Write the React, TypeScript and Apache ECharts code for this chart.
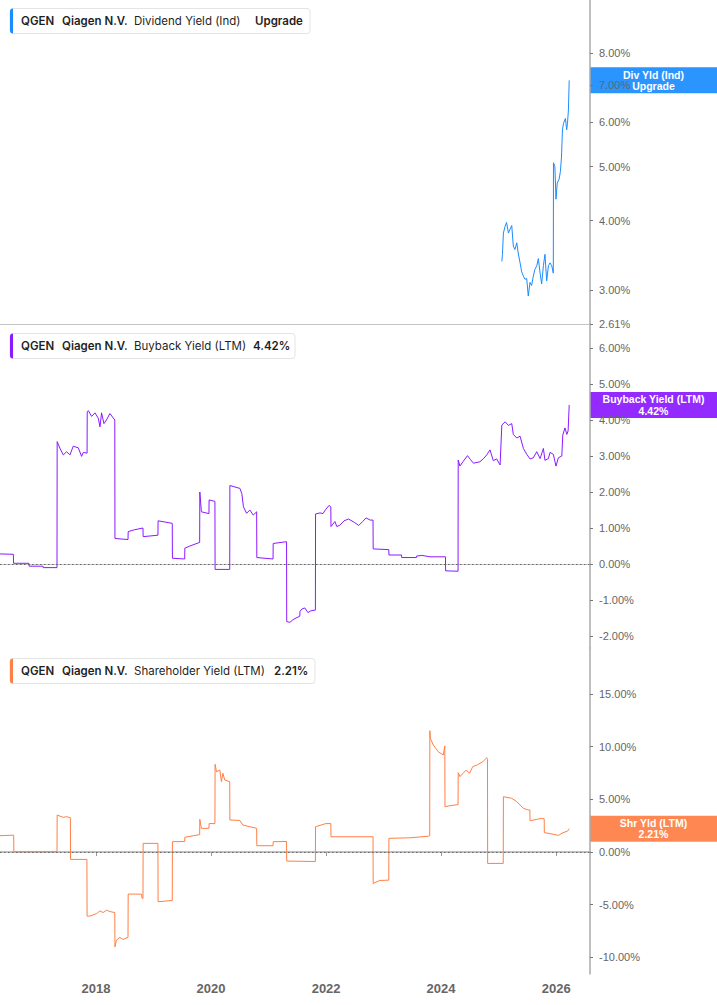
import React, { useEffect, useRef } from "react";
import * as echarts from "echarts";

// ---------- data ----------
const divDates = [
  "2025-01-21", "2025-01-25", "2025-01-31", "2025-02-11", "2025-02-20", "2025-03-04", "2025-03-14",
  "2025-03-25", "2025-04-04", "2025-04-14", "2025-04-26", "2025-05-05", "2025-05-17", "2025-05-27",
  "2025-06-07", "2025-06-17", "2025-06-28", "2025-07-08", "2025-07-19", "2025-07-29", "2025-08-09",
  "2025-08-19", "2025-08-31", "2025-09-10", "2025-09-21", "2025-10-01", "2025-10-12", "2025-10-22",
  "2025-11-02", "2025-11-13", "2025-11-23", "2025-12-04", "2025-12-14", "2025-12-15", "2025-12-24",
  "2025-12-31", "2026-01-08", "2026-01-20", "2026-01-28", "2026-02-04", "2026-02-10", "2026-02-17",
  "2026-03-01", "2026-03-09", "2026-03-14", "2026-03-20", "2026-03-25",
];
const divValues = [
  3.38, 3.48, 3.8, 3.91, 3.97, 3.8, 3.86,
  3.92, 3.6, 3.55, 3.65, 3.5, 3.36, 3.24,
  3.18, 3.14, 3.15, 2.93, 3.1, 3.06, 3.18,
  3.27, 3.32, 3.42, 3.22, 3.08, 3.32, 3.48,
  3.12, 3.32, 3.36, 3.32, 3.22, 5.08, 5.0,
  4.37, 4.67, 4.75, 4.9, 5.2, 5.82, 5.98,
  6.1, 5.82, 5.98, 6.32, 7.14,
];

const buyDates = [
  "2016-05-01", "2016-07-25", "2016-07-26", "2016-11-01", "2016-11-02", "2017-01-29", "2017-01-30",
  "2017-04-28", "2017-04-29", "2017-05-16", "2017-06-07", "2017-06-28", "2017-07-19", "2017-08-09",
  "2017-09-10", "2017-10-01", "2017-10-12", "2017-11-05", "2017-11-06", "2017-11-13", "2017-12-04",
  "2017-12-25", "2018-01-15", "2018-01-26", "2018-02-05", "2018-02-20", "2018-03-08", "2018-03-30",
  "2018-04-30", "2018-05-01", "2018-07-23", "2018-07-24", "2018-09-01", "2018-10-26", "2018-10-27",
  "2019-01-29", "2019-01-30", "2019-04-30", "2019-05-01", "2019-07-18", "2019-07-19", "2019-08-20",
  "2019-10-21", "2019-10-22", "2019-11-01", "2019-12-19", "2019-12-20", "2020-01-26", "2020-01-27",
  "2020-04-29", "2020-04-30", "2020-07-03", "2020-07-15", "2020-07-25", "2020-08-14", "2020-09-04",
  "2020-09-25", "2020-10-17", "2020-10-18", "2021-01-29", "2021-01-30", "2021-04-25", "2021-04-26",
  "2021-05-16", "2021-06-04", "2021-06-24", "2021-07-18", "2021-07-19", "2021-07-31", "2021-08-19",
  "2021-09-08", "2021-09-26", "2021-10-25", "2021-10-26", "2021-11-23", "2021-12-12", "2021-12-30",
  "2022-01-21", "2022-01-31", "2022-02-01", "2022-02-26", "2022-03-10", "2022-03-30", "2022-04-25",
  "2022-05-23", "2022-07-02", "2022-07-27", "2022-08-21", "2022-09-12", "2022-10-08", "2022-10-26",
  "2022-10-27", "2023-02-03", "2023-02-04", "2023-04-25", "2023-04-26", "2023-07-29", "2023-07-30",
  "2023-09-01", "2023-10-22", "2024-01-29", "2024-01-30", "2024-04-18", "2024-04-19", "2024-04-30",
  "2024-05-19", "2024-06-17", "2024-07-06", "2024-07-25", "2024-09-04", "2024-09-25", "2024-10-17",
  "2024-11-07", "2024-11-28", "2024-12-19", "2025-01-10", "2025-01-21", "2025-02-11", "2025-03-04",
  "2025-03-25", "2025-04-04", "2025-04-26", "2025-05-17", "2025-06-07", "2025-06-28", "2025-07-19",
  "2025-08-09", "2025-08-31", "2025-09-21", "2025-10-12", "2025-10-22", "2025-11-13", "2025-11-23",
  "2025-12-14", "2025-12-31", "2026-01-15", "2026-02-06", "2026-02-12", "2026-02-26", "2026-03-10",
  "2026-03-18", "2026-03-25",
];
const buyValues = [
  0.28, 0.27, 0.02, 0.02, -0.06, -0.06, -0.1,
  -0.1, 3.4, 3.22, 3.03, 3.12, 3.03, 3.27,
  3.23, 2.99, 3.1, 3.08, 4.23, 4.26, 4.1,
  4.2, 4.05, 3.81, 4.2, 3.9, 4.0, 4.18,
  4.0, 0.71, 0.68, 0.9, 0.95, 1.0, 0.76,
  0.8, 1.2, 1.13, 0.16, 0.14, 0.44, 0.5,
  0.6, 2.0, 1.45, 1.4, 1.78, 1.74, -0.15,
  -0.15, 2.18, 2.1, 1.95, 1.59, 1.41, 1.5,
  1.36, 1.45, 0.18, 0.14, 0.57, 0.62, -1.6,
  -1.62, -1.55, -1.5, -1.45, -1.32, -1.25, -1.22,
  -1.35, -1.3, -1.28, 1.39, 1.42, 1.4, 1.52,
  1.63, 1.58, 1.04, 1.18, 1.04, 1.08, 1.2,
  1.25, 1.15, 1.07, 1.18, 1.28, 1.22, 1.22,
  0.42, 0.4, 0.25, 0.25, 0.18, 0.18, 0.22,
  0.24, 0.2, 0.2, -0.19, -0.2, 2.89, 2.72,
  2.84, 3.01, 2.9, 2.8, 2.84, 2.92, 3.03,
  3.17, 2.87, 2.92, 2.75, 3.86, 3.95, 3.85,
  3.9, 3.6, 3.5, 3.55, 3.21, 3.05, 2.92,
  2.95, 3.12, 2.93, 3.21, 2.88, 2.93, 3.1,
  3.05, 2.72, 2.95, 3.0, 3.58, 3.78, 3.6,
  3.7, 4.42,
];

const shrDates = [
  "2016-05-01", "2016-07-27", "2016-07-28", "2017-04-28", "2017-04-29", "2017-06-07", "2017-06-28",
  "2017-07-22", "2017-07-23", "2017-11-04", "2017-11-05", "2017-11-23", "2018-01-05", "2018-01-26",
  "2018-02-15", "2018-03-08", "2018-03-30", "2018-04-30", "2018-05-01", "2018-05-11", "2018-06-01",
  "2018-06-21", "2018-07-23", "2018-07-24", "2018-10-17", "2018-10-20", "2018-10-26", "2018-10-27",
  "2019-01-29", "2019-01-30", "2019-04-30", "2019-05-01", "2019-07-18", "2019-07-19", "2019-10-21",
  "2019-10-22", "2019-11-01", "2019-12-19", "2019-12-20", "2020-01-26", "2020-01-27", "2020-02-05",
  "2020-02-26", "2020-03-07", "2020-03-17", "2020-03-28", "2020-04-29", "2020-04-30", "2020-07-02",
  "2020-07-22", "2020-09-04", "2020-10-17", "2020-10-18", "2021-01-29", "2021-01-30", "2021-04-25",
  "2021-04-26", "2021-10-25", "2021-10-26", "2021-12-30", "2022-01-31", "2022-02-01", "2022-10-26",
  "2022-10-27", "2022-12-08", "2023-02-03", "2023-02-04", "2023-06-17", "2023-10-12", "2023-10-21",
  "2023-10-22", "2023-10-25", "2023-11-13", "2023-12-14", "2024-01-15", "2024-01-25", "2024-01-26",
  "2024-02-26", "2024-04-18", "2024-04-19", "2024-04-30", "2024-05-19", "2024-06-09", "2024-06-30",
  "2024-07-20", "2024-08-19", "2024-09-25", "2024-10-17", "2024-10-22", "2024-10-23", "2025-01-30",
  "2025-01-31", "2025-03-25", "2025-04-26", "2025-06-07", "2025-07-08", "2025-07-18", "2025-07-19",
  "2025-08-31", "2025-10-01", "2025-10-17", "2025-10-18", "2025-11-23", "2026-01-15", "2026-02-14",
  "2026-03-14", "2026-03-25",
];
const shrValues = [
  1.55, 1.6, 0.03, 0.03, 3.51, 3.29, 3.36,
  3.25, -0.7, -0.7, -6.08, -6.08, -5.84, -5.59,
  -5.75, -5.52, -5.65, -5.75, -9.0, -8.36, -8.1,
  -8.3, -8.1, -3.99, -4.0, -4.4, -4.4, 0.82,
  0.82, -4.72, -4.6, 0.98, 1.0, 1.4, 1.65,
  3.1, 2.25, 2.25, 2.7, 2.7, 8.33, 7.62,
  7.79, 6.68, 7.47, 6.84, 6.68, 3.04, 3.0,
  2.56, 2.4, 2.25, 0.6, 0.6, 0.98, 1.0,
  -0.86, -0.9, 2.4, 2.7, 2.7, 1.45, 1.45,
  -2.98, -2.7, -2.67, 1.3, 1.35, 1.5, 1.55,
  11.52, 10.8, 10.16, 9.53, 9.21, 10.07, 4.3,
  4.4, 4.5, 7.53, 7.15, 7.47, 7.79, 7.47,
  8.1, 8.28, 8.6, 8.96, 8.8, -1.08, -1.08,
  5.25, 5.1, 4.78, 4.15, 3.99, 4.0, 2.97,
  3.1, 3.2, 3.15, 1.84, 1.75, 1.58, 1.84,
  1.98, 2.21,
];

const xTickYears = [2018, 2020, 2022, 2024, 2026];
const divTicks = [2.61, 3, 4, 5, 6, 7, 8];
const buyTicks = [-2, -1, 0, 1, 2, 3, 4, 5, 6];
const shrTicks = [-10, -5, 0, 5, 10, 15];

const ticker = "QGEN";
const company = "Qiagen N.V.";
const divName = "Dividend Yield (Ind)";
const buyName = "Buyback Yield (LTM)";
const shrName = "Shareholder Yield (LTM)";

// ---------- styling ----------
const BLUE = "#1a8cff";
const PURPLE = "#8b1aff";
const ORANGE = "#ff7f45";
const AXIS_FONT = "'Liberation Sans', Arial, sans-serif";
const LEG_FONT = "Inter, 'Noto Sans', sans-serif";

const W = 717;
const H = 1005;
const PLOT_RIGHT = 590;

const toTs = (s: string) => {
  const [y, m, d] = s.split("-").map(Number);
  return new Date(y, m - 1, d).getTime();
};
const X_MIN = toTs("2016-05-01");
const X_MAX = toTs("2026-08-04");
const xTickValues = xTickYears.map((y) => new Date(y, 0, 1).getTime());

const zip = (d: string[], v: number[]) => d.map((s, i) => [toTs(s), v[i]]);
const pct = (v: number) => v.toFixed(2) + "%";

function yAxisBase(grid: number, ticks: number[]) {
  return {
    gridIndex: grid,
    position: "right",
    axisLine: { show: true, lineStyle: { color: "#aaaaaa", width: 1.5 } },
    axisTick: { show: true, length: 3, customValues: ticks, lineStyle: { color: "#777" } },
    axisLabel: {
      show: true,
      customValues: ticks,
      margin: 9,
      color: "#666",
      fontSize: 11,
      fontFamily: AXIS_FONT,
      formatter: (v: number) => pct(v),
    },
    splitLine: { show: false },
  };
}

function xAxisBase(grid: number, last: boolean) {
  return {
    type: "value",
    gridIndex: grid,
    min: X_MIN,
    max: X_MAX,
    axisLine: { show: true, lineStyle: { color: last ? "#aaaaaa" : "#c4c4c4", width: last ? 1.5 : 1 } },
    axisTick: {
      show: last,
      length: 4,
      customValues: xTickValues,
      lineStyle: { color: "#999" },
    },
    axisLabel: {
      show: last,
      customValues: xTickValues,
      formatter: (v: number) => String(new Date(v).getFullYear()),
      color: "#666",
      fontWeight: "bold",
      fontSize: 13,
      fontFamily: AXIS_FONT,
      margin: 8,
    },
    splitLine: { show: false },
  };
}

const zeroLine = {
  silent: true,
  symbol: ["none", "none"],
  label: { show: false },
  lineStyle: { type: [1.5, 2.5], color: "#666", width: 1 },
  data: [{ yAxis: 0 }],
};

function legendBox(top: number, width: number, color: string, name: string, value: string, valueX: number) {
  const cy = top + 12.5;
  const txt = (x: number, text: string, bold: boolean) => ({
    type: "text",
    x,
    y: cy,
    style: {
      text,
      fill: "#1f1f1f",
      fontSize: 11.5,
      fontWeight: bold ? 600 : 400,
      fontFamily: LEG_FONT,
      verticalAlign: "middle",
    },
  });
  return {
    type: "group",
    children: [
      {
        type: "rect",
        shape: { x: 10, y: top, width, height: 25, r: 3 },
        style: { fill: "#fff", stroke: "#e4e4e4", lineWidth: 1 },
      },
      {
        type: "rect",
        shape: { x: 10, y: top, width: 3, height: 25, r: [3, 0, 0, 3] },
        style: { fill: color },
      },
      txt(21, ticker, true),
      txt(62, company, true),
      txt(134, name, false),
      txt(valueX, value, true),
    ],
  };
}

function tag(cy: number, color: string, text: string) {
  return {
    type: "group",
    children: [
      {
        type: "rect",
        shape: { x: PLOT_RIGHT, y: cy - 13, width: W - PLOT_RIGHT, height: 26 },
        style: { fill: color, opacity: 0.93 },
      },
      {
        type: "text",
        x: 653.5,
        y: cy,
        style: {
          text,
          fill: "#fff",
          fontSize: 10.5,
          fontWeight: "bold",
          fontFamily: AXIS_FONT,
          align: "center",
          verticalAlign: "middle",
          lineHeight: 11.5,
        },
      },
    ],
  };
}

export default function App() {
  const ref = useRef<HTMLDivElement>(null);

  useEffect(() => {
    if (!ref.current) return;
    const chart = echarts.init(ref.current, null, { renderer: "svg" });

    const option: any = {
      animation: false,
      backgroundColor: "#ffffff",
      grid: [
        { left: 0, right: W - PLOT_RIGHT, top: 0, height: 324 },
        { left: 0, right: W - PLOT_RIGHT, top: 324, height: 324 },
        { left: 0, right: W - PLOT_RIGHT, top: 648, height: 326 },
      ],
      xAxis: [xAxisBase(0, false), xAxisBase(1, false), xAxisBase(2, true)],
      yAxis: [
        { ...yAxisBase(0, divTicks), type: "log", logBase: 10, min: 2.61, max: 9.95 },
        { ...yAxisBase(1, buyTicks), type: "value", min: -2.333, max: 6.667 },
        { ...yAxisBase(2, shrTicks), type: "value", min: -11.58, max: 19.37 },
      ],
      series: [
        {
          type: "line",
          name: divName,
          xAxisIndex: 0,
          yAxisIndex: 0,
          data: zip(divDates, divValues),
          showSymbol: false,
          lineStyle: { width: 1, color: BLUE },
          itemStyle: { color: BLUE },
        },
        {
          type: "line",
          name: buyName,
          xAxisIndex: 1,
          yAxisIndex: 1,
          data: zip(buyDates, buyValues),
          showSymbol: false,
          lineStyle: { width: 1, color: PURPLE },
          itemStyle: { color: PURPLE },
          markLine: zeroLine,
        },
        {
          type: "line",
          name: shrName,
          xAxisIndex: 2,
          yAxisIndex: 2,
          data: zip(shrDates, shrValues),
          showSymbol: false,
          lineStyle: { width: 1, color: ORANGE },
          itemStyle: { color: ORANGE },
          markLine: zeroLine,
        },
      ],
    };
    chart.setOption(option);

    const lastDiv = divValues[divValues.length - 1];
    const lastBuy = buyValues[buyValues.length - 1];
    const lastShr = shrValues[shrValues.length - 1];
    const yDiv = chart.convertToPixel({ yAxisIndex: 0 }, lastDiv) as number;
    const yBuy = chart.convertToPixel({ yAxisIndex: 1 }, lastBuy) as number;
    const yShr = chart.convertToPixel({ yAxisIndex: 2 }, lastShr) as number;

    chart.setOption({
      graphic: [
        legendBox(8.5, 300, BLUE, divName, "Upgrade", 255),
        legendBox(333.5, 285, PURPLE, buyName, pct(lastBuy), 253),
        legendBox(658.5, 305, ORANGE, shrName, pct(lastShr), 274),
        tag(yDiv, BLUE, "Div Yld (Ind)\nUpgrade"),
        tag(yBuy, PURPLE, "Buyback Yield (LTM)\n" + pct(lastBuy)),
        tag(yShr, ORANGE, "Shr Yld (LTM)\n" + pct(lastShr)),
      ],
    });

    return () => chart.dispose();
  }, []);

  return (
    <div
      ref={ref}
      style={{ position: "fixed", left: 0, top: 0, width: W, height: H, background: "#fff" }}
    />
  );
}
